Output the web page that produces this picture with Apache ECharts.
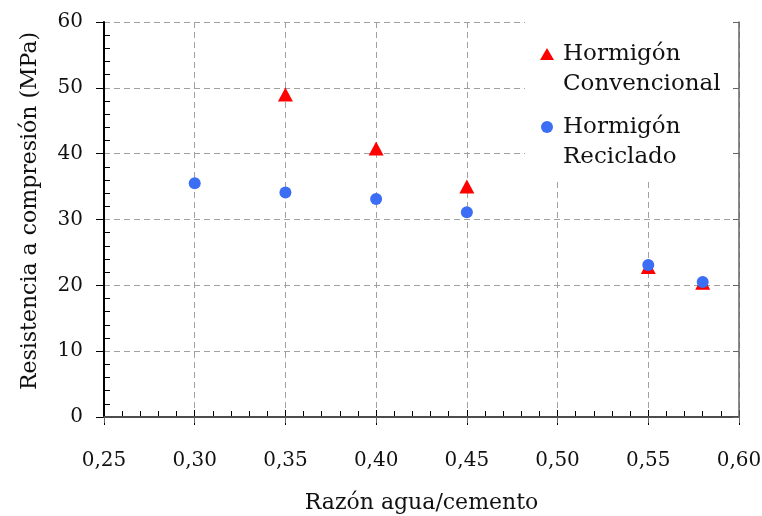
<!DOCTYPE html>
<html>
<head>
<meta charset="utf-8">
<script src="https://cdn.jsdelivr.net/npm/echarts@6/dist/echarts.min.js"></script>
<style>
html,body{margin:0;padding:0;background:#fff;}
#chart{width:762px;height:516px;}
</style>
</head>
<body>
<div id="chart"></div>
<script>
// ---- data ----
const seriesNames = ['Hormigón Convencional', 'Hormigón Reciclado'];
const legendLines = [['Hormigón', 'Convencional'], ['Hormigón', 'Reciclado']];
const convX = [0.35, 0.40, 0.45, 0.55, 0.58];
const convY = [49.0, 40.8, 35.0, 22.8, 20.4];
const recX = [0.30, 0.35, 0.40, 0.45, 0.55, 0.58];
const recY = [35.5, 34.1, 33.1, 31.1, 23.1, 20.5];
const xTicks = [0.25, 0.30, 0.35, 0.40, 0.45, 0.50, 0.55, 0.60];
const yTicks = [0, 10, 20, 30, 40, 50, 60];
const xTitle = 'Razón agua/cemento';
const yTitle = 'Resistencia a compresión (MPa)';

const FONT = 'DejaVu Serif';
const pairs = (xs, ys) => xs.map((x, i) => [x, ys[i]]);
const xMin = xTicks[0], xMax = xTicks[xTicks.length - 1], xInt = 0.05;
const yMin = yTicks[0], yMax = yTicks[yTicks.length - 1], yInt = 10;

const chart = echarts.init(document.getElementById('chart'), null, {renderer: 'canvas'});
const dash = {type: [6, 4], color: '#a0a0a0', width: 1};

const option = {
  backgroundColor: '#fff',
  animation: false,
  grid: {left: 104, right: 23, top: 22, bottom: 99, containLabel: false, outerBoundsMode: 'none'},
  legend: {
    orient: 'vertical',
    left: 525,
    top: 4,
    padding: [5, 13, 8, 15],
    itemGap: -17,
    itemWidth: 14,
    itemHeight: 12,
    backgroundColor: '#fff',
    selectedMode: false,
    z: 4,
    data: seriesNames,
    // a blank first line keeps the symbol level with the first text line
    formatter: name => ' \n' + legendLines[seriesNames.indexOf(name)].join('\n'),
    textStyle: {fontFamily: FONT, fontSize: 23, color: '#111', lineHeight: 30, padding: [0, 0, 0, 4]}
  },
  xAxis: [
    {
      type: 'value', position: 'bottom', min: xMin, max: xMax, interval: xInt,
      name: xTitle, nameLocation: 'middle', nameGap: 75,
      nameTextStyle: {fontFamily: FONT, fontSize: 22, color: '#111'},
      axisLine: {show: true, lineStyle: {color: '#000', width: 2}},
      axisTick: {show: true, inside: true, length: 7, lineStyle: {color: '#000', width: 1}},
      minorTick: {show: true, splitNumber: 5, length: 6, lineStyle: {color: '#000', width: 1}},
      axisLabel: {show: true, margin: 34, fontFamily: FONT, fontSize: 20, color: '#111',
        formatter: v => v.toFixed(2).replace('.', ',')},
      splitLine: {show: true, lineStyle: dash},
      z: 0
    },
    {
      type: 'value', position: 'bottom', min: xMin, max: xMax, interval: xInt,
      axisLine: {show: false},
      axisTick: {show: true, inside: false, length: 8, lineStyle: {color: '#000', width: 1}},
      axisLabel: {show: false},
      splitLine: {show: false}
    },
    {
      type: 'value', position: 'top', min: xMin, max: xMax, interval: xInt,
      axisLine: {show: true, lineStyle: {color: '#666', width: 1.5}},
      axisTick: {show: true, inside: true, length: 6, lineStyle: {color: '#666', width: 1}},
      axisLabel: {show: false},
      splitLine: {show: false},
      z: 10
    }
  ],
  yAxis: [
    {
      type: 'value', position: 'left', min: yMin, max: yMax, interval: yInt,
      name: yTitle, nameLocation: 'middle', nameGap: 63,
      nameTextStyle: {fontFamily: FONT, fontSize: 22, color: '#111', padding: [0, 0, 0, 17]},
      axisLine: {show: true, lineStyle: {color: '#000', width: 2}},
      axisTick: {show: true, inside: false, length: 8, lineStyle: {color: '#000', width: 1}},
      axisLabel: {show: true, margin: 21, fontFamily: FONT, fontSize: 20, color: '#111'},
      splitLine: {show: true, lineStyle: dash},
      z: 0
    },
    {
      type: 'value', position: 'left', min: yMin, max: yMax, interval: yInt,
      axisLine: {show: false},
      axisTick: {show: false, inside: true},
      minorTick: {show: true, splitNumber: 5, length: 6, lineStyle: {color: '#000', width: 1}},
      axisLabel: {show: false},
      splitLine: {show: false}
    },
    {
      type: 'value', position: 'right', min: yMin, max: yMax, interval: yInt,
      axisLine: {show: true, lineStyle: {color: '#666', width: 1.5}},
      axisTick: {show: true, inside: true, length: 6, lineStyle: {color: '#666', width: 1}},
      axisLabel: {show: false},
      splitLine: {show: false},
      z: 10
    }
  ],
  series: [
    {
      name: seriesNames[0], type: 'scatter', xAxisIndex: 0, yAxisIndex: 0,
      symbol: 'triangle', symbolSize: [15, 14],
      itemStyle: {color: '#ff0000', opacity: 1},
      data: pairs(convX, convY), z: 5
    },
    {
      name: seriesNames[1], type: 'scatter', xAxisIndex: 0, yAxisIndex: 0,
      symbol: 'circle', symbolSize: 12,
      itemStyle: {color: '#3b6ef5', opacity: 1},
      data: pairs(recX, recY), z: 6
    }
  ]
};
chart.setOption(option);
</script>
</body>
</html>
